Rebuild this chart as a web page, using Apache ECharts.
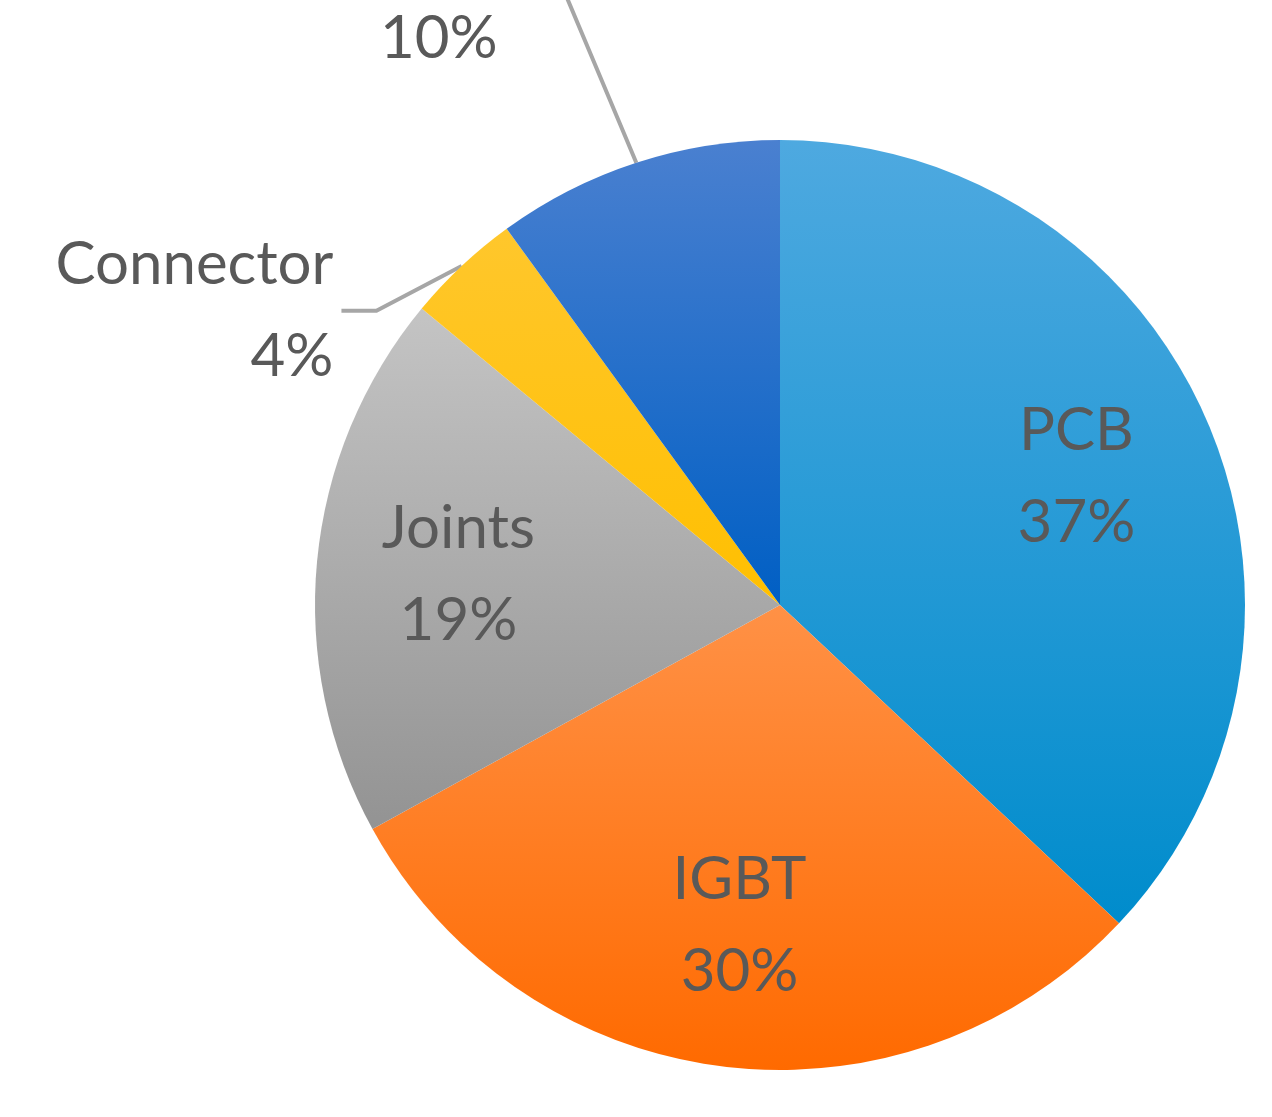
<!DOCTYPE html>
<html>
<head>
<meta charset="utf-8">
<script src="https://cdn.jsdelivr.net/npm/echarts@6/dist/echarts.min.js"></script>
<style>
  html, body { margin: 0; padding: 0; background: #fff; }
  #chart { width: 1272px; height: 1117px; }
</style>
</head>
<body>
<div id="chart"></div>
<script>
// 各元件失效比例
const categories = ["PCB", "IGBT", "Joints", "Connector", "Others"];
const shares = [37, 30, 19, 4, 10];
const insideLabels = ["PCB", "IGBT", "Joints"];

const gradients = [
  ["#4ea9e0", "#008ccc"],
  ["#ff9146", "#ff6a00"],
  ["#c4c4c4", "#939393"],
  ["#ffc72c", "#ffbf00"],
  ["#4a80d0", "#005fc4"],
];

const chart = echarts.init(document.getElementById("chart"));

const labelText = {
  color: "#595959",
  fontFamily: "Lato, 'Open Sans', sans-serif",
  fontSize: 60,
  lineHeight: 92,
  formatter: "{b}\n{c}%",
};

const mainData = categories.map((name, i) => {
  const inside = insideLabels.includes(name);
  return {
    name,
    value: shares[i],
    itemStyle: {
      color: new echarts.graphic.LinearGradient(0, 0, 0, 1, [
        { offset: 0, color: gradients[i][0] },
        { offset: 1, color: gradients[i][1] },
      ]),
    },
    label: { show: !inside },
    labelLine: { show: !inside },
  };
});

// 內部標籤用透明環形系列，讓文字更靠外
const labelData = categories.map((name, i) => ({
  name,
  value: shares[i],
  label: { show: insideLabels.includes(name) },
}));

chart.setOption({
  backgroundColor: "#fff",
  animation: false,
  series: [
    {
      type: "pie",
      center: [780, 605],
      radius: [0, 465],
      startAngle: 90,
      clockwise: true,
      data: mainData,
      label: Object.assign({ position: "outside", distanceToLabelLine: 8 }, labelText),
      labelLine: {
        length: 40,
        length2: 35,
        lineStyle: { color: "#a6a6a6", width: 4 },
      },
      labelLayout: (p) => {
        if (p.dataIndex === 4) return { x: p.labelRect.x + 40, y: p.labelRect.y - 40, align: "center" };
        return {};
      },
    },
    {
      type: "pie",
      silent: true,
      center: [780, 605],
      radius: [175, 465],
      startAngle: 90,
      clockwise: true,
      data: labelData,
      itemStyle: { color: "rgba(0,0,0,0)" },
      label: Object.assign({ position: "inner" }, labelText),
      labelLine: { show: false },
    },
  ],
});
</script>
</body>
</html>
